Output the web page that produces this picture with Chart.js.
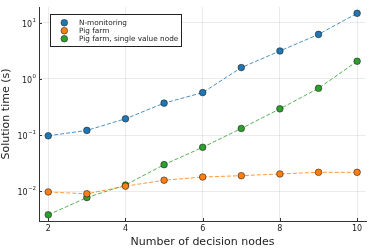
<!DOCTYPE html>
<html>
<head>
<meta charset="utf-8">
<script src="https://cdn.jsdelivr.net/npm/chart.js@4"></script>
<style>
  html, body { margin: 0; padding: 0; background: #fff; }
  #wrap { width: 374px; height: 249px; }
</style>
</head>
<body>
<div id="wrap"><canvas id="grafico"></canvas></div>
<script>
const nodos = [2, 3, 4, 5, 6, 7, 8, 9, 10];
const nMonitoring = [0.097, 0.121, 0.195, 0.37, 0.57, 1.59, 3.14, 6.2, 14.7];
const pigFarm = [0.0097, 0.0090, 0.0123, 0.0157, 0.0179, 0.0189, 0.0203, 0.0217, 0.0217];
const pigFarmSingle = [0.0038, 0.0077, 0.0129, 0.0297, 0.0605, 0.131, 0.293, 0.68, 2.06];

const nombres = ['N-monitoring', 'Pig farm', 'Pig farm, single value node'];
const colores = ['#1f77b4', '#ff7f0e', '#2ca02c'];
const lineas = ['rgba(31,119,180,0.8)', 'rgba(255,127,14,0.8)', 'rgba(44,160,44,0.8)'];

const xTicks = [2, 4, 6, 8, 10];
const yTicks = [0.01, 0.1, 1, 10];
const yExponentes = ['−2', '−1', '0', '1'];

const fuente = 'DejaVu Sans';

const serie = (valores, i) => ({
  label: nombres[i],
  data: nodos.map((x, k) => ({ x, y: valores[k] })),
  borderColor: lineas[i],
  borderWidth: 1,
  borderDash: [4, 2],
  pointBackgroundColor: colores[i],
  pointBorderColor: '#222',
  pointBorderWidth: 0.6,
  pointRadius: 3.3,
  tension: 0,
});

// Etiquetas del eje y como potencias de 10, más marcas cortas
const etiquetasY = {
  id: 'etiquetasY',
  afterDraw(chart) {
    const ctx = chart.ctx;
    const eje = chart.scales.y;
    const ejeX = chart.scales.x;
    const izq = chart.chartArea.left;
    const abajo = chart.chartArea.bottom;
    ctx.save();
    ctx.strokeStyle = '#333';
    ctx.lineWidth = 1;
    yTicks.forEach((v, i) => {
      const y = Math.round(eje.getPixelForValue(v)) + 0.5;
      ctx.beginPath();
      ctx.moveTo(izq, y);
      ctx.lineTo(izq + 3, y);
      ctx.stroke();
      ctx.fillStyle = '#222';
      ctx.textBaseline = 'middle';
      ctx.textAlign = 'right';
      ctx.font = '5.5px ' + fuente;
      const exp = yExponentes[i];
      const anchoExp = ctx.measureText(exp).width;
      ctx.fillText(exp, 36, y - 3);
      ctx.font = '8px ' + fuente;
      ctx.fillText('10', 36 - anchoExp - 0.3, y + 1);
    });
    xTicks.forEach((v) => {
      const x = Math.round(ejeX.getPixelForValue(v)) + 0.5;
      ctx.beginPath();
      ctx.moveTo(x, abajo);
      ctx.lineTo(x, abajo - 3);
      ctx.stroke();
    });
    ctx.restore();
  },
};

// Leyenda dentro del área del gráfico
const leyenda = {
  id: 'leyenda',
  afterDraw(chart) {
    const ctx = chart.ctx;
    ctx.save();
    ctx.fillStyle = '#fff';
    ctx.fillRect(50, 14, 132, 33);
    ctx.strokeStyle = '#222';
    ctx.lineWidth = 1;
    ctx.strokeRect(50.5, 14.5, 131, 32);
    ctx.font = '7.3px ' + fuente;
    ctx.textBaseline = 'middle';
    ctx.textAlign = 'left';
    nombres.forEach((nombre, i) => {
      const y = 22.7 + i * 8;
      ctx.beginPath();
      ctx.arc(64.3, y, 3.3, 0, Math.PI * 2);
      ctx.fillStyle = colores[i];
      ctx.fill();
      ctx.lineWidth = 0.6;
      ctx.strokeStyle = '#222';
      ctx.stroke();
      ctx.fillStyle = '#222';
      ctx.fillText(nombre, 79, y + 0.5);
    });
    ctx.restore();
  },
};

new Chart(document.getElementById('grafico'), {
  type: 'line',
  data: {
    datasets: [serie(nMonitoring, 0), serie(pigFarm, 1), serie(pigFarmSingle, 2)],
  },
  options: {
    responsive: true,
    maintainAspectRatio: false,
    animation: false,
    layout: { padding: { top: 7, right: 8, left: 0, bottom: 0 } },
    plugins: { legend: { display: false }, tooltip: { enabled: false } },
    scales: {
      x: {
        type: 'linear',
        min: 1.76,
        max: 10.23,
        afterBuildTicks: (eje) => { eje.ticks = xTicks.map(value => ({ value })); },
        afterFit: (eje) => { eje.height = 28; },
        grid: { color: 'rgba(0,0,0,0.08)', drawTicks: false },
        border: { color: '#333', width: 1 },
        ticks: { font: { family: fuente, size: 8 }, color: '#222', padding: 3, maxRotation: 0 },
        title: { display: true, text: 'Number of decision nodes', font: { family: fuente, size: 11 }, color: '#222', padding: { top: 0, bottom: 0 } },
      },
      y: {
        type: 'logarithmic',
        min: 0.00295,
        max: 19.05,
        afterBuildTicks: (eje) => { eje.ticks = yTicks.map(value => ({ value })); },
        afterFit: (eje) => { eje.width = 39; },
        grid: { color: 'rgba(0,0,0,0.08)', drawTicks: false },
        border: { color: '#333', width: 1 },
        ticks: { display: false },
        title: { display: true, text: 'Solution time (s)', font: { family: fuente, size: 11 }, color: '#222', padding: { top: 0, bottom: 2 } },
      },
    },
  },
  plugins: [etiquetasY, leyenda],
});
</script>
</body>
</html>
